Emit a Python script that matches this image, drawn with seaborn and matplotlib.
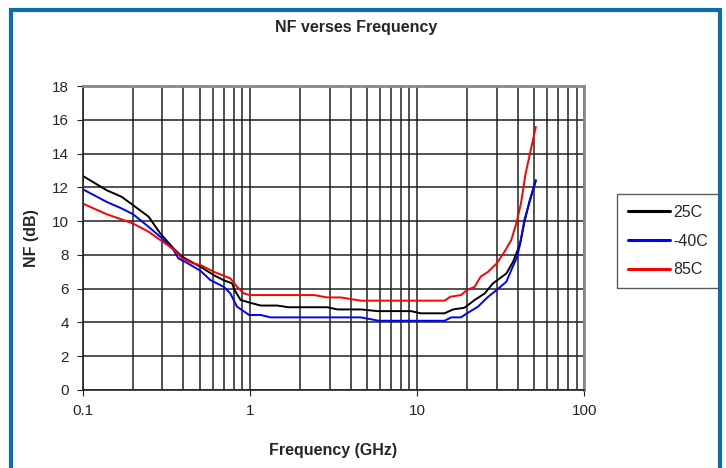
import matplotlib
matplotlib.use("Agg")
import matplotlib.pyplot as plt
import matplotlib.patches as patches
from matplotlib.ticker import LogLocator, FixedLocator, NullFormatter
import numpy as np
import pandas as pd
import seaborn as sns

# data
freq_25 = [0.1, 0.139, 0.171, 0.2, 0.248, 0.291, 0.35, 0.393, 0.506, 0.608, 0.697, 0.783, 0.81, 0.88,
           1.0, 1.16, 1.46, 1.7, 2.91, 3.34, 4.6, 5.8, 9.2, 10.5, 14.6, 16.4, 19.2, 22.1, 25.4, 28.4,
           34.2, 37.5, 41.1, 44.0, 47.1, 51.3]
nf_25 = [12.68, 11.83, 11.44, 10.95, 10.26, 9.27, 8.38, 7.89, 7.3, 6.8, 6.5, 6.31, 5.92, 5.33,
         5.17, 5.0, 5.0, 4.9, 4.9, 4.77, 4.77, 4.67, 4.67, 4.54, 4.54, 4.77, 4.87, 5.33, 5.72, 6.31,
         6.9, 7.59, 8.6, 10.0, 11.2, 12.4]

freq_m40 = [0.1, 0.139, 0.171, 0.2, 0.248, 0.291, 0.35, 0.374, 0.42, 0.506, 0.58, 0.697, 0.764, 0.838,
            0.99, 1.16, 1.33, 4.6, 5.9, 14.6, 16.0, 18.3, 19.9, 23.1, 26.6, 29.9, 34.2, 36.6, 39.7,
            41.8, 43.8, 47.1, 51.3]
nf_m40 = [11.89, 11.14, 10.75, 10.41, 9.66, 9.07, 8.28, 7.79, 7.53, 7.06, 6.51, 6.11, 5.72, 4.93,
          4.44, 4.44, 4.3, 4.3, 4.1, 4.1, 4.3, 4.3, 4.54, 4.93, 5.52, 5.92, 6.41, 7.1, 7.89,
          8.88, 10.06, 11.14, 12.43]

freq_85 = [0.1, 0.139, 0.171, 0.2, 0.248, 0.291, 0.35, 0.393, 0.46, 0.506, 0.608, 0.764, 0.838, 0.92,
           1.0, 2.42, 2.91, 3.5, 4.6, 14.6, 15.8, 18.3, 19.9, 22.1, 24.0, 26.6, 29.9, 33.3, 36.6,
           39.2, 41.8, 44.6, 47.1, 51.3]
nf_85 = [11.04, 10.41, 10.1, 9.86, 9.37, 8.88, 8.34, 7.79, 7.49, 7.4, 7.0, 6.61, 6.11, 5.72,
         5.62, 5.62, 5.48, 5.48, 5.29, 5.29, 5.52, 5.62, 5.92, 6.11, 6.71, 7.0, 7.49, 8.18, 8.88,
         9.86, 11.04, 12.82, 13.9, 15.58]

temps = ["25C", "-40C", "85C"]
colors = ["#000000", "#0000ff", "#ff0000"]

df = pd.concat([
    pd.DataFrame({"freq": freq_25, "nf": nf_25, "temp": "25C"}),
    pd.DataFrame({"freq": freq_m40, "nf": nf_m40, "temp": "-40C"}),
    pd.DataFrame({"freq": freq_85, "nf": nf_85, "temp": "85C"}),
])

sns.set_style("white")
plt.rcParams["font.family"] = ["Liberation Sans", "DejaVu Sans"]

fig = plt.figure(figsize=(7.26, 4.68), dpi=100)
ax = fig.add_axes([0.1139, 0.1667, 0.6909, 0.6495])

sns.lineplot(data=df, x="freq", y="nf", hue="temp", hue_order=temps,
             palette=dict(zip(temps, colors)), estimator=None, sort=False,
             linewidth=1.4, ax=ax)

ax.set_xscale("log")
ax.set_xlim(0.1, 100)
ax.set_ylim(0, 18)
ax.set_yticks(np.arange(0, 19, 2))
ax.xaxis.set_major_locator(FixedLocator([0.1, 1, 10, 100]))
ax.set_xticklabels(["0.1", "1", "10", "100"])
ax.xaxis.set_minor_locator(LogLocator(base=10, subs=np.arange(2, 10)))
ax.xaxis.set_minor_formatter(NullFormatter())

ax.grid(True, which="major", axis="both", color="#222222", linewidth=1.1)
ax.grid(True, which="minor", axis="x", color="#222222", linewidth=1.1)
ax.tick_params(axis="both", which="major", labelsize=11, length=4, direction="out",
               color="#222222", left=True, bottom=True, pad=6)
ax.tick_params(axis="x", which="minor", length=0)

for side in ["left", "bottom"]:
    ax.spines[side].set_color("#222222")
    ax.spines[side].set_linewidth(1.2)
for side in ["top", "right"]:
    ax.spines[side].set_color("#888888")
    ax.spines[side].set_linewidth(2.0)

ax.set_xlabel("Frequency (GHz)", fontsize=11.5, fontweight="bold", labelpad=18)
ax.set_ylabel("NF (dB)", fontsize=11.5, fontweight="bold", labelpad=9)
fig.text(0.49, 0.942, "NF verses Frequency", ha="center", va="center",
         fontsize=11.5, fontweight="bold")

leg = ax.legend(loc="center left", bbox_to_anchor=(1.049, 0.49), frameon=True,
                fancybox=False, edgecolor="#333333", fontsize=11.5,
                handlelength=2.6, handletextpad=0.2, labelspacing=0.85,
                borderpad=0.7)
leg.get_frame().set_linewidth(1.0)
for line in leg.get_lines():
    line.set_linewidth(2.2)

# blue frame around the chart
border = patches.Rectangle((11 / 726, -0.05), (720 - 11) / 726, 1.05 - 10 / 468,
                           transform=fig.transFigure, fill=False,
                           edgecolor="#0a6db0", linewidth=3, clip_on=False)
fig.patches.append(border)

fig.savefig("out.png", dpi=100)
